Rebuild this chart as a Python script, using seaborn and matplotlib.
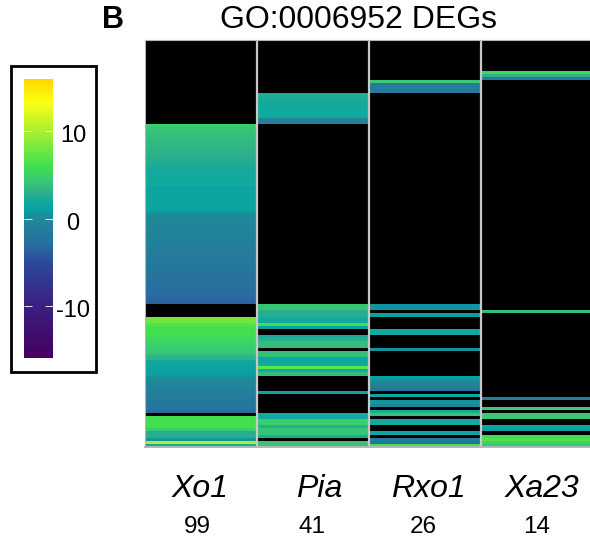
import numpy as np
import pandas as pd
import matplotlib.pyplot as plt
from matplotlib.colors import LinearSegmentedColormap
from matplotlib.patches import Rectangle
from matplotlib.transforms import ScaledTranslation
import seaborn as sns

plt.rcParams['font.family'] = ['Liberation Sans', 'DejaVu Sans']

nan = np.nan

# =========================
# DATA (log2 fold change per gene, top to bottom)
# =========================
genes = ["Xo1", "Pia", "Rxo1", "Xa23"]
counts = [99, 41, 26, 14]

xo1 = [nan] * 27 + [
    4.5, 4.2, 4, 3.8, 3.7, 3.5, 3.4, 3.2, 3, 2.9, 2.8, 2.7, 2.6,
    2.3, 2.3, 2, 2, 2, 2, 2, 1.5, 1.5, 1.5, 1.5, 1.5, 1.5, 1.5, 1.5,
    0.5, 0, 0, -0.2, -0.4, -0.5, -0.5, -0.7, -0.8, -1, -1, -1.2, -1.3, -1.5, -1.5,
    -1.7, -1.8, -2, -2, -2.2, -2.3, -2.5, -2.5, -2.7, -2.8, -3, -3, -3.2, -3.4, -3.7,
] + [nan] * 4 + [
    7.8, 7.8, 6.8, 6, 6, 6, 5.5, 5.5, 5, 4.7, 4.4, 4, 3.4, 3, 1.8, 1.5, 1.5, 1.2, 1,
    0.3, 0, -0.3, -0.5, -0.8, -1, -1.2, -1.5, -1.8, -2, -2.5, -3,
] + [nan] + [6, 6, 6, 6, 4.4, 2.7, 2.7, 0.5, 10, 2.3]

pia = [nan] * 17 + [2.6, 2.4, 2.2, 2.2, 2, 2, 2, 2, -0.5, -0.8] + [nan] * 58 + [
    4, 4, 2.7, 2.7, 2, 2, 6, 1,
] + [nan] * 2 + [2.3, 2.7, 3.7, 3.7] + [nan] + [
    3.7, 3.7, 1.5, 1.5, 2, 7, 2, 3.7,
] + [nan] * 5 + [1.5] + [nan] * 6 + [
    2, 2, 4.7, 4.7, 2.7, 4, 4, 2.3,
] + [nan] + [4, 4]

rxo1 = [nan] * 13 + [4.4, -1.5, -1.5, -1.5] + [nan] * 68 + [
    0.5, 0.5, nan, 1, nan, nan, nan, nan, 2, 1.8, nan, nan, nan, nan, 0.5,
] + [nan] * 8 + [
    1, 0.3, -0.5, -1, -2, nan, 1.5, nan, 0.5, -0.5, nan,
    2.3, 4, nan, 2, 2, nan, nan, 1.5, nan, -1.5, -2.5, 6,
]

xa23 = [nan] * 10 + [5.5, 3, -1.5] + [nan] * 74 + [3.7] + [nan] * 27 + [
    -1, nan, nan, 4.4, nan, 4.4, 4.4, nan, nan, 1.5, 1, nan, 5.5, 6.5, 5, 4,
]

bar_ticks = [-10, 0, 10]

# =========================
# COLOURS
# =========================
vmin, vmax = -16, 16
stops = [(-16, "#440060"), (-10, "#3a2080"), (-5, "#2a4a9c"), (-3, "#286ea0"),
         (0, "#208898"), (1, "#08a0a0"), (2, "#10a8a0"), (3, "#30b088"), (4.5, "#38cc70"),
         (6, "#40e050"), (10, "#a8f030"), (13.5, "#ffff10"), (16, "#ffd700")]
cmap = LinearSegmentedColormap.from_list(
    "legend_map", [((v - vmin) / (vmax - vmin), c) for v, c in stops])

df = pd.DataFrame({"Xo1": xo1, "Pia": pia, "Rxo1": rxo1, "Xa23": xa23})

W, H = 590, 538
fig = plt.figure(figsize=(W / 100, H / 100), dpi=100)


def px_axes(x0, y0, x1, y1):
    return fig.add_axes([x0 / W, 1 - y1 / H, (x1 - x0) / W, (y1 - y0) / H])


# =========================
# HEATMAP
# =========================
ax = px_axes(145, 40, 593, 447)
cax = px_axes(24, 79, 53, 358)
ax.set_facecolor("black")
sns.heatmap(df, ax=ax, cmap=cmap, vmin=vmin, vmax=vmax, cbar_ax=cax,
            xticklabels=False, yticklabels=False,
            cbar_kws={"ticks": bar_ticks})
for x in [1, 2, 3]:
    ax.axvline(x, color="#c9c9c9", lw=1.6)
for side, spine in ax.spines.items():
    spine.set_visible(True)
    spine.set_color("#b5b5b5")
    spine.set_linewidth(1.4 if side == "bottom" else 0.8)

# =========================
# COLOUR BAR
# =========================
cax.tick_params(left=True, right=True, direction="in", length=6, width=0.7,
                color="#e8e8e8", labelsize=17, pad=0, labelcolor="black")
cax.set_yticklabels(["-10", "0", "10"])
nudge = ScaledTranslation(0, -2.5 / 100, fig.dpi_scale_trans)
for label in cax.get_yticklabels():
    label.set_horizontalalignment("center")
    label.set_x(1.69)
    label.set_transform(label.get_transform() + nudge)
ax.collections[0].colorbar.outline.set_visible(False)
fig.add_artist(Rectangle((10.5 / W, 1 - 372 / H), 85 / W, 306.5 / H, fill=False,
                         edgecolor="black", lw=2, transform=fig.transFigure))

# =========================
# TEXT
# =========================
fig.text(113 / W, 1 - 28 / H, "B", fontsize=22, fontweight="bold", ha="center", va="baseline")
fig.text(358 / W, 1 - 28 / H, "GO:0006952 DEGs", fontsize=23, ha="center", va="baseline")

gene_x = [200, 319, 428, 542]
count_x = [197, 312, 423, 537]
for name, n, gx, cx in zip(genes, counts, gene_x, count_x):
    fig.text(gx / W, 1 - 497 / H, name, fontsize=23, style="italic", ha="center", va="baseline")
    fig.text(cx / W, 1 - 533 / H, str(n), fontsize=17.5, ha="center", va="baseline")

fig.savefig("out.png", dpi=100)
